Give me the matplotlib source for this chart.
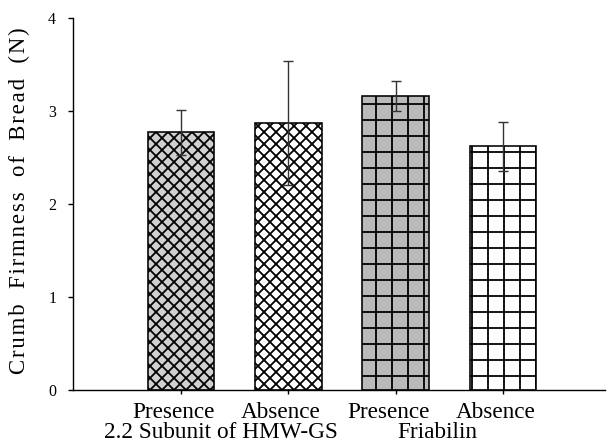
import matplotlib
matplotlib.use("Agg")
import matplotlib.pyplot as plt
import matplotlib.transforms as mtransforms

# data
categories = ["Presence", "Absence", "Presence", "Absence"]
firmness = [2.77, 2.87, 3.16, 2.62]
errors = [0.24, 0.67, 0.16, 0.26]
group_labels = ["2.2 Subunit of HMW-GS", "Friabilin"]
group_centers = [1.37, 3.39]
y_ticks = [0, 1, 2, 3, 4]
y_label = "Crumb Firmness of Bread (N)"

# high dpi so the hatch spacing comes out right (px = pt * 4)
DPI = 288
plt.rcParams["font.family"] = ["Liberation Serif", "DejaVu Serif"]
plt.rcParams["hatch.linewidth"] = 0.45

fig = plt.figure(figsize=(607 / DPI, 445 / DPI), dpi=DPI)
ax = fig.add_axes([0.121, 0.1236, 0.876, 0.836])

fills = ["#d0d0d0", "white", "#bababa", "white"]
hatches = ["xxxxxxxx", "xxxxxxxx", "+++", "+++"]
positions = list(range(1, len(categories) + 1))

for pos, val, err, fc, h in zip(positions, firmness, errors, fills, hatches):
    ax.bar(pos, val, width=0.62, color=fc, edgecolor="black",
           linewidth=0.4, hatch=h, zorder=2)
    ax.errorbar(pos, val, yerr=err, fmt="none", ecolor="#333333",
                elinewidth=0.35, capsize=1.3, capthick=0.35, zorder=3)

ax.set_xlim(0, 4.95)
ax.set_ylim(0, 4)
ax.set_yticks(y_ticks)
ax.set_xticks(positions)
ax.set_xticklabels(categories, fontsize=5.8)
ax.tick_params(axis="y", labelsize=4.0, length=1.3, width=0.35, pad=3.0)
ax.tick_params(axis="x", length=1.0, width=0.35, pad=2.0)

# category names sit a little left of their ticks in the original
shift = mtransforms.ScaledTranslation(-1.8 / 72, 0, fig.dpi_scale_trans)
for lbl in ax.get_xticklabels():
    lbl.set_transform(lbl.get_transform() + shift)

for side in ["top", "right"]:
    ax.spines[side].set_visible(False)
ax.spines["left"].set_linewidth(0.35)
ax.spines["bottom"].set_linewidth(0.35)

# the original label is letter-spaced; hair spaces between letters
spaced = "\u200a".join(y_label).replace(" ", "  ")
ax.set_ylabel(spaced, fontsize=5.7, va="center")
ax.yaxis.set_label_coords(-0.102, 0.51)

trans = mtransforms.blended_transform_factory(ax.transData, ax.transAxes)
for label, xc in zip(group_labels, group_centers):
    ax.text(xc, -0.115, label, transform=trans, ha="center", va="center",
            fontsize=5.8)

fig.savefig("out.png", dpi=DPI)
